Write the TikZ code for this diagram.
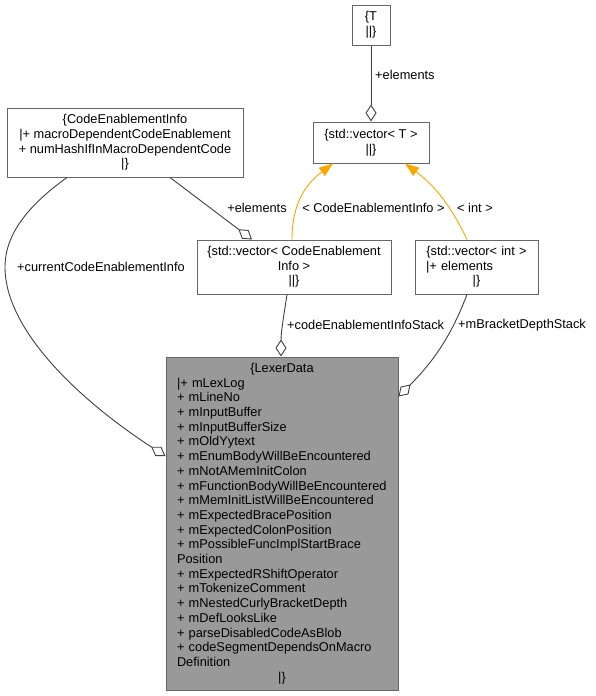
\documentclass[tikz,border=0pt]{standalone}
\usepackage{fontspec}
\setmainfont{Liberation Sans}
\usetikzlibrary{arrows.meta}

\definecolor{edgegray}{HTML}{404040}
\definecolor{boxgray}{HTML}{666666}
\definecolor{focusgray}{HTML}{999999}
\definecolor{tmplorange}{HTML}{FFA500}
\newcommand{\dxfont}{\fontsize{12.8}{14.7}\selectfont}

\begin{document}
\begin{tikzpicture}[x=1pt, y=-1pt,
    box/.style={draw=boxgray, fill=white, line width=1pt, inner sep=0pt, font=\dxfont, align=center},
    focus/.style={box, fill=focusgray},
    agg/.style={draw=edgegray, line width=0.9pt, -{Diamond[fill=white, length=17pt, width=11pt]}},
    tmpl/.style={draw=tmplorange, line width=0.9pt, -{Triangle[length=14pt, width=10pt]}},
    lbl/.style={inner sep=0pt, font=\dxfont}]
    \useasboundingbox (0,0) rectangle (596,696);

    % Template and its instances
    \node[box, minimum width=38pt, minimum height=40pt] (T) at (371,25) {\{T\\||\}};
    \node[box, minimum width=116pt, minimum height=41pt] (vecT) at (371,142.5) {\{std::vector< T >\\||\}};
    \node[box, minimum width=194pt, minimum height=54pt] (vecCEI) at (294,267) {\{std::vector< CodeEnablement\\Info >\\||\}};
    \node[box, text width=101pt, inner xsep=11pt, minimum height=54pt, align=left] (vecInt) at (476.5,267)
        {\makebox[\linewidth]{\{std::vector< int >}\\|+ elements\\\makebox[\linewidth]{|\}}};

    % Element type
    \node[box, minimum width=236pt, minimum height=69pt] (CEI) at (125,142.5)
        {\{CodeEnablementInfo\\|+ macroDependentCodeEnablement\\+ numHashIfInMacroDependentCode\\|\}};

    % Lexer data
    \node[focus, text width=210pt, inner xsep=11pt, minimum height=333pt, align=left] (lexer) at (282,523.5)
        {\makebox[\linewidth]{\{LexerData}\\
         |+ mLexLog\\
         + mLineNo\\
         + mInputBuffer\\
         + mInputBufferSize\\
         + mOldYytext\\
         + mEnumBodyWillBeEncountered\\
         + mNotAMemInitColon\\
         + mFunctionBodyWillBeEncountered\\
         + mMemInitListWillBeEncountered\\
         + mExpectedBracePosition\\
         + mExpectedColonPosition\\
         + mPossibleFuncImplStartBrace\\
         Position\\
         + mExpectedRShiftOperator\\
         + mTokenizeComment\\
         + mNestedCurlyBracketDepth\\
         + mDefLooksLike\\
         + parseDisabledCodeAsBlob\\
         + codeSegmentDependsOnMacro\\
         Definition\\
         \makebox[\linewidth]{|\}}};

    % Aggregations into the template
    \draw[agg] (T) -- (vecT);
    \node[lbl, anchor=west] (lElemT) at (375,75) {+elements};
    \draw[agg] ([xshift=45pt]CEI.south) -- ([xshift=-42pt]vecCEI.north);
    \node[lbl] (lElemCEI) at (257,208) {+elements};

    % Template instances
    \draw[tmpl] ([xshift=-2pt]vecCEI.north) .. controls +(0,-35) and +(-28,21) .. ([xshift=-38pt]vecT.south);
    \node[lbl] (lCEI) at (373.5,208) {< CodeEnablementInfo >};
    \draw[tmpl] ([xshift=-9.5pt]vecInt.north) .. controls +(-12,-25) and +(35,26) .. ([xshift=34pt]vecT.south);
    \node[lbl] (lInt) at (475,208) {< int >};

    % Aggregations into LexerData
    \draw[agg] ([xshift=-7pt]vecCEI.south) .. controls +(-3,20) and +(0,-25) .. ([xshift=-1pt]lexer.north);
    \node[lbl, anchor=west] (lStack) at (287,325) {+codeEnablementInfoStack};
    \draw[agg] ([xshift=-9.5pt]vecInt.south) .. controls +(-12,31) and +(42,-42) .. ([yshift=-40pt]lexer.north east);
    \node[lbl, anchor=west] (lDepth) at (458,325) {+mBracketDepthStack};
    \draw[agg] ([xshift=-58pt]CEI.south) .. controls +(-32,23) and +(0,-37) .. (5,267)
        .. controls +(0,70) and +(-70,-45) .. ([yshift=67.5pt]lexer.west);
    \node[lbl, anchor=west] (lCurrent) at (17,267) {+currentCodeEnablementInfo};
\end{tikzpicture}
\end{document}
